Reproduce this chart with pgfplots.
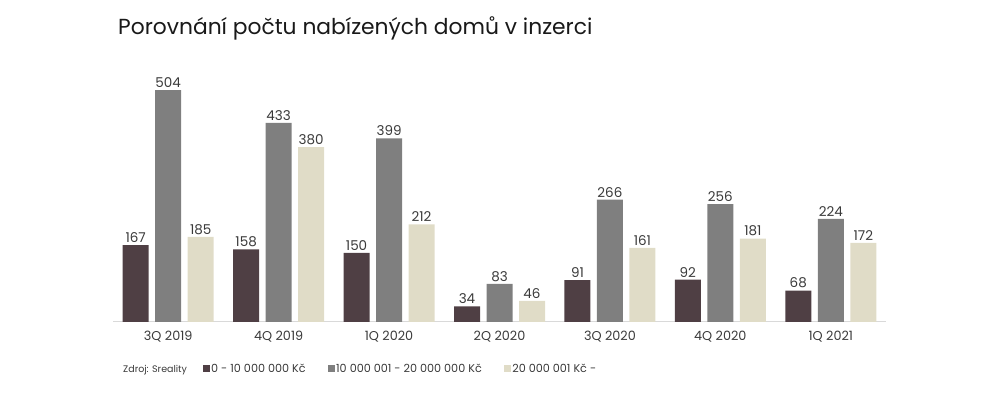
\documentclass[border=0pt]{standalone}
\usepackage{pgfplots}
\pgfplotsset{compat=1.18}
\usepackage{fontspec}
\setmainfont{Poppins}
\definecolor{c1}{HTML}{4F3F44}
\definecolor{c2}{HTML}{7F7F7F}
\definecolor{c3}{HTML}{E0DCC7}
\definecolor{txt}{HTML}{3A3A3A}
\definecolor{axl}{HTML}{D9D9D9}
\begin{document}
\begin{tikzpicture}
\path[use as bounding box] (-113pt,-76pt) rectangle (887pt,322pt);
\node[anchor=base west, inner sep=0pt, font=\fontsize{21.8}{26}\selectfont, text=black!90] at (5pt,287pt) {Porovnání počtu nabízených domů v inzerci};
\node[anchor=base west, inner sep=0pt, font=\fontsize{9.5}{11}\selectfont, text=txt] at (10pt,-51pt) {Zdroj: Sreality};
\begin{axis}[
  at={(0pt,0pt)}, anchor=south west,
  scale only axis, width=773pt, height=299pt,
  xmin=-0.5, xmax=6.5, ymin=0, ymax=650,
  ybar=6.5pt, bar width=26pt,
  axis y line=none,
  axis x line*=bottom,
  x axis line style={axl, line width=1pt, -},
  xtick=data,
  xticklabels={3Q 2019,4Q 2019,1Q 2020,2Q 2020,3Q 2020,4Q 2020,1Q 2021},
  major tick length=0pt,
  xticklabel style={font=\fontsize{12.8}{14}\selectfont, text=txt, yshift=-6pt},
  clip=false,
  /pgf/number format/assume math mode=true,
  nodes near coords,
  nodes near coords style={font=\fontsize{13.5}{15}\selectfont, text=txt, yshift=-1pt},
  legend columns=-1,
  legend style={at={(0.1164,-0.157)}, anchor=west, draw=none, fill=none,
    font=\fontsize{11.2}{13}\selectfont, text=txt, inner sep=0pt,
    /tikz/every even column/.append style={column sep=21pt},
    nodes={inner sep=1.5pt}},
  legend image code/.code={\fill[#1] (0pt,-3.5pt) rectangle (6.5pt,3.5pt);},
]
\addplot[fill=c1, draw=none] coordinates {(0,167) (1,158) (2,150) (3,34) (4,91) (5,92) (6,68)};
\addplot[fill=c2, draw=none] coordinates {(0,504) (1,433) (2,399) (3,83) (4,266) (5,256) (6,224)};
\addplot[fill=c3, draw=none] coordinates {(0,185) (1,380) (2,212) (3,46) (4,161) (5,181) (6,172)};
\legend{0 - 10 000 000 Kč, 10 000 001 - 20 000 000 Kč, 20 000 001 Kč -}
\end{axis}
\end{tikzpicture}
\end{document}
